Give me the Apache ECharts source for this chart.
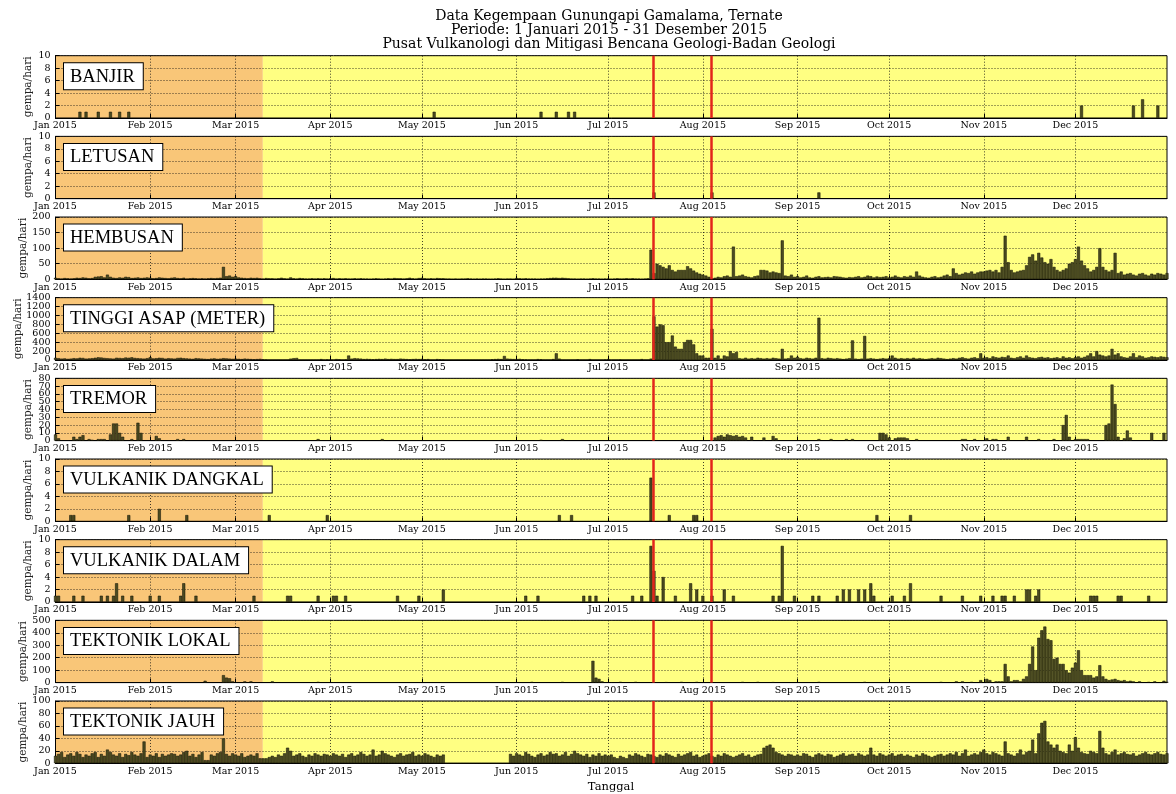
<!DOCTYPE html>
<html><head><meta charset="utf-8">
<script src="https://cdn.jsdelivr.net/npm/echarts@6/dist/echarts.min.js"></script>
<style>html,body{margin:0;padding:0;background:#fff}#c{width:1176px;height:794px}</style>
</head><body><div id="c"></div><script>
// ---- axis / labels ----
const titleLines = ['Data Kegempaan Gunungapi Gamalama, Ternate','Periode: 1 Januari 2015 - 31 Desember 2015','Pusat Vulkanologi dan Mitigasi Bencana Geologi-Badan Geologi'];
const xAxisTitle = 'Tanggal';
const yAxisTitle = 'gempa/hari';
const monthTicks = [0,31,59,90,120,151,181,212,243,273,304,334]; // day of year (0 = 1 Jan 2015)
const monthLabels = ['Jan 2015','Feb 2015','Mar 2015','Apr 2015','May 2015','Jun 2015','Jul 2015','Aug 2015','Sep 2015','Oct 2015','Nov 2015','Dec 2015'];
const panelNames = ['BANJIR','LETUSAN','HEMBUSAN','TINGGI ASAP (METER)','TREMOR','VULKANIK DANGKAL','VULKANIK DALAM','TEKTONIK LOKAL','TEKTONIK JAUH'];
const yMax  = [10,10,200,1400,80,10,10,500,100];
const yStep = [2,2,50,200,10,2,2,100,20];
const eventDays = [195.7, 214.7];   // red markers (day of year)
const orangeEndDay = 67.9;          // end of orange period

// ---- sparse series: day of year + value ----
const banjirDays = [8,10,14,18,21,24,124,159,164,168,170,336,353,356,361];
const banjirVals = [1,1,1,1,1,1,1,1,1,1,1,2,2,3,2];
const letusanDays = [196,215,250];
const letusanVals = [1,1,1];
const tremorDays = [0,1,6,7,8,9,11,12,14,15,16,18,19,20,21,22,25,27,28,33,34,40,42,86,107,159,166,216,217,218,219,220,221,222,223,224,225,226,228,232,235,236,250,254,259,261,270,271,272,273,275,276,277,278,279,282,297,298,301,305,307,308,312,318,322,327,330,331,332,334,335,336,337,338,344,345,346,347,348,350,351,352,359,363];
const tremorVals = [8,3,5,2,5,7,2,1,2,2,2,8,22,22,10,5,2,23,10,6,3,2,2,2,2,1,2,4,6,7,5,8,7,6,7,5,6,4,5,4,6,3,2,2,2,2,10,10,8,4,3,4,4,4,3,2,2,2,2,3,2,2,5,5,2,2,20,33,5,2,2,2,2,2,20,22,72,47,5,3,13,4,10,10];
const vDangkalDays = [5,6,24,34,43,70,89,165,169,195,201,209,210,269,280];
const vDangkalVals = [1,1,1,2,1,1,1,1,1,7,1,1,1,1,1];
const vDalamDays = [0,1,6,9,15,17,19,20,22,25,31,34,41,42,46,65,76,77,86,91,92,95,112,119,127,154,158,173,175,177,189,192,195,196,197,199,203,208,210,212,215,219,222,235,237,238,242,248,250,256,258,260,263,265,267,268,274,278,280,290,297,303,307,310,311,314,318,319,321,322,339,340,341,348,349,358];
const vDalamVals = [1,1,1,1,1,1,1,3,1,1, 1,1,1,3,1,1,1,1,1,1, 1,1,1,1,2,1,1,1,1,1, 1,1,9,5,1,4,1,3,2,1, 1,2,1,1,1,9,1,1,1,1, 2,2,2,2,3,1,1,1,3,1, 1,1,1,1,1,1,2,2,1,2, 1,1,1,1,1,1];
const tLokalDays = [49,55,56,57,58,62,64,71,86,156,166,176,177,178,179,185,190,200,205,210,225,230,235,250,265,290,295,297,300,303,305,306,308,309,310,311,312,313,314,315,316,317,318,319,320,321,322,323,324,325,326,327,328,329,330,331,332,333,334,335,336,337,338,339,340,341,342,343,344,345,346,347,348,349,350,351,352,353,355,358,360,363,364];
const tLokalVals = [15,60,40,35,10,10,10,10,5,5, 5,175,40,30,10,5,5,3,5,5, 5,5,3,5,5,5,10,10,5,20, 30,20,10,10,10,150,50,10,20,20, 10,30,50,150,290,100,360,420,450,350, 340,190,200,150,150,100,80,120,160,260, 100,60,60,60,40,50,140,50,30,20, 25,30,20,15,20,10,15,10, 10,5,10,15,5];

// ---- dense daily series (365 values, one line per month) ----
const hembusan = [
 5,3,2,4,3,2,3,5,4,6,5,3,4,8,9,10,6,15,8,5,4,6,5,8,7,4,5,6,4,5,6,
 5,3,4,6,5,4,3,5,6,4,3,5,2,3,4,3,2,3,2,3,4,3,4,5,40,10,12,8,
 10,6,5,4,3,5,4,5,3,2,4,3,3,2,3,5,3,2,6,3,2,4,3,2,2,3,2,3,2,3,2,
 3,4,2,3,2,3,2,2,3,2,3,2,2,1,2,3,2,1,2,3,2,4,3,3,2,3,5,3,2,4,
 5,3,2,3,2,4,3,3,2,2,1,2,1,2,2,3,2,1,2,1,2,2,1,1,2,3,2,1,2,2,1,
 4,3,2,3,2,2,2,1,2,2,3,4,5,5,4,5,4,3,2,2,1,2,2,1,2,3,2,2,1,2,
 2,1,2,3,2,2,3,2,3,2,2,1,2,3,95,20,50,45,40,35,45,30,25,30,30,30,42,35,28,22,18,
 15,12,8,3,5,8,6,10,12,8,105,10,12,15,10,8,6,10,12,30,30,28,22,25,22,20,125,12,10,15,8,
 10,6,8,12,6,5,8,10,6,7,8,6,10,9,8,6,5,7,6,8,10,6,8,12,10,6,9,7,8,10,
 6,8,12,8,6,10,8,12,8,25,12,8,6,5,8,10,6,8,12,15,10,35,20,15,18,22,20,25,18,22,25,
 25,28,30,25,30,22,40,140,55,30,22,25,28,30,45,72,80,60,85,70,55,50,65,40,30,25,30,35,50,55,
 65,105,60,45,35,25,30,40,100,40,30,25,30,85,20,25,15,18,20,15,12,18,20,15,12,18,15,20,18,15,20
];
const tinggiAsap = [
 50,40,30,35,25,30,40,35,50,45,30,35,40,50,60,55,45,40,35,30,50,45,40,55,50,60,45,40,35,30,40,
 60,35,40,50,45,30,40,35,30,45,50,40,35,30,25,40,35,30,25,20,30,35,25,30,40,35,30,25,
 30,25,20,30,25,20,15,20,25,15,10,0,0,0,0,0,0,0,30,40,45,0,0,0,0,0,0,0,20,0,10,
 0,0,20,15,0,10,100,30,40,35,30,20,25,20,15,20,25,20,30,20,25,20,20,30,25,20,15,20,25,20,
 25,15,20,0,0,20,15,10,0,0,0,0,0,0,0,0,0,0,0,0,0,0,0,15,20,25,20,90,30,25,20,
 20,25,15,10,0,0,0,20,15,0,0,0,20,150,30,0,0,0,0,0,15,0,0,0,20,0,0,0,0,10,
 20,0,0,0,10,0,0,0,0,0,0,20,0,0,30,980,750,800,780,400,400,550,300,250,250,400,450,450,350,150,100,
 100,50,50,700,50,100,30,100,80,200,150,180,40,30,50,30,40,30,50,40,30,40,30,50,40,30,250,30,40,100,50,
 70,40,30,50,40,30,50,950,40,30,50,40,30,40,30,20,30,40,440,30,20,30,540,30,40,30,20,30,40,30,
 40,100,50,30,40,30,40,30,50,30,40,30,20,30,40,30,50,40,30,20,30,40,30,50,60,40,30,50,60,40,150,
 50,60,40,80,60,50,70,60,100,50,40,60,80,50,100,60,50,40,60,70,50,60,40,50,60,40,80,50,60,40,
 60,80,50,70,100,150,80,200,120,100,80,100,250,120,150,80,60,50,80,150,60,100,80,50,60,80,70,60,80,70,60
];
const tektonikJauh = [
 12,15,18,10,14,16,12,18,15,10,14,12,16,18,10,15,12,22,18,14,12,16,10,15,13,18,14,12,16,35,10,
 14,12,16,10,15,12,14,16,15,12,14,18,20,12,15,10,14,18,5,5,14,12,16,18,40,15,12,16,
 14,12,16,10,12,14,12,16,8,8,8,10,12,10,14,12,16,25,20,12,14,16,12,10,14,12,16,14,12,15,14,
 12,16,14,12,15,10,14,16,12,14,18,15,12,14,22,12,14,20,16,14,12,10,14,16,12,14,15,18,12,14,
 12,16,14,12,10,14,12,14,0,0,0,0,0,0,0,0,0,0,0,0,0,0,0,0,0,0,0,0,0,15,12,
 16,14,12,18,15,12,10,14,16,12,14,18,15,16,12,14,18,12,15,20,16,14,12,15,10,14,12,16,12,14,
 12,14,10,8,12,10,8,14,12,16,14,12,10,15,14,12,10,14,12,16,14,12,10,15,12,14,16,18,12,14,10,
 12,14,16,12,10,14,12,16,14,12,10,12,14,16,12,14,10,12,14,15,25,28,30,25,18,16,14,12,15,14,12,
 14,12,16,15,12,10,14,16,14,12,15,14,10,12,14,16,12,14,15,12,16,14,12,14,25,14,12,16,14,12,
 14,16,12,14,15,12,14,12,10,14,12,16,14,12,10,12,14,15,12,14,16,14,18,12,16,22,12,14,16,14,18,
 22,16,14,18,16,14,12,35,16,14,12,16,22,14,18,20,38,16,48,65,68,35,30,25,30,20,18,16,30,20,
 42,25,18,16,15,20,18,16,52,25,16,14,18,22,14,16,18,15,14,16,12,14,16,18,15,14,16,18,15,14,16
];

// ---- build ----
const pairs = (days, vals) => days.map((d, k) => [d, vals[k]]);
const daily = arr => arr.map((v, i) => [i, v]);
const panelData = [
  pairs(banjirDays, banjirVals), pairs(letusanDays, letusanVals), daily(hembusan), daily(tinggiAsap),
  pairs(tremorDays, tremorVals), pairs(vDangkalDays, vDangkalVals), pairs(vDalamDays, vDalamVals),
  pairs(tLokalDays, tLokalVals), daily(tektonikJauh)
];

const SERIF = 'DejaVu Serif';
const BOXFONT = 'Liberation Serif';
const TOP0 = 55.7, STEP = 80.66, H = 62.3, LEFT = 55.5, RIGHT = 9;
const ORANGE = '#f9c678', YELLOW = '#ffff82';
const dotted = {color:'#111', type:[1,2], width:0.8};
const yLabelStyle = {fontFamily:SERIF, fontSize:9.5, color:'#000', margin:5, formatter:v => String(v),
  showMinLabel:true, showMaxLabel:true, hideOverlap:false};

const grids = [], xAxes = [], yAxes = [], series = [], graphics = [];
panelNames.forEach((name, i) => {
  const top = TOP0 + STEP * i;
  const maxLabelLen = String(yMax[i]).length;
  const ticks = [];
  for (let v = 0; v <= yMax[i]; v += yStep[i]) ticks.push(v);
  const evenTicks = ticks.filter((v, k) => k % 2 === 0);
  const oddTicks = ticks.filter((v, k) => k % 2 === 1);
  grids.push({left:LEFT, right:RIGHT, top:top, height:H, show:true, borderColor:'#000', borderWidth:1,
              backgroundColor:'transparent', outerBoundsMode:'none'});
  xAxes.push({gridIndex:i, type:'value', min:0, max:364,
    axisLine:{show:true, onZero:false, lineStyle:{color:'#000', width:1}},
    axisTick:{show:true, inside:true, length:4, customValues:monthTicks, lineStyle:{color:'#000'}},
    axisLabel:{customValues:monthTicks, formatter:v => monthLabels[monthTicks.indexOf(v)],
      fontFamily:SERIF, fontSize:9.5, color:'#000', margin:3, showMinLabel:true, showMaxLabel:true, hideOverlap:false},
    splitLine:{show:true, lineStyle:dotted}});
  // main y axis (line, ticks, grid, even labels)
  yAxes.push({gridIndex:i, type:'value', min:0, max:yMax[i], interval:yStep[i],
    axisLine:{show:true, lineStyle:{color:'#000', width:1}},
    axisTick:{show:true, inside:true, length:4, lineStyle:{color:'#000'}},
    axisLabel:Object.assign({customValues:evenTicks}, yLabelStyle),
    splitLine:{show:true, lineStyle:dotted},
    name:yAxisTitle, nameLocation:'middle', nameMoveOverlap:false,
    nameGap: maxLabelLen <= 2 ? 22 : (maxLabelLen === 3 ? 27 : 32), nameRotate:90,
    nameTextStyle:{fontFamily:SERIF, fontSize:10.5, color:'#222'}});
  // overlay y axis carrying the odd labels (keeps crowded labels from being dropped)
  yAxes.push({gridIndex:i, type:'value', min:0, max:yMax[i], interval:yStep[i], position:'left', offset:0,
    axisLine:{show:false}, axisTick:{show:false}, splitLine:{show:false},
    axisLabel:Object.assign({customValues:oddTicks}, yLabelStyle)});
  series.push({type:'line', xAxisIndex:i, yAxisIndex:2 * i, data:[], silent:true, z:-1,
    markArea:{silent:true, z:-1, data:[
      [{xAxis:0, itemStyle:{color:ORANGE}}, {xAxis:orangeEndDay}],
      [{xAxis:orangeEndDay, itemStyle:{color:YELLOW}}, {xAxis:364}]
    ]}});
  series.push({type:'bar', xAxisIndex:i, yAxisIndex:2 * i, data:panelData[i], barWidth:3,
    itemStyle:{color:'#4b4b20', borderColor:'#0d0d05', borderWidth:0.5},
    markLine:{silent:true, symbol:['none','none'], label:{show:false},
      lineStyle:{color:'#e3241b', width:2.5, type:'solid'},
      data:eventDays.map(d => ({xAxis:d}))}});
  graphics.push({type:'text', x:64, y:top + 7.6, z:100,
    style:{text:name, font:'18.5px "' + BOXFONT + '"', fill:'#000', align:'left', verticalAlign:'top',
      backgroundColor:'#fff', borderColor:'#000', borderWidth:1, padding:[4,8,3,6]}});
});
titleLines.forEach((t, k) => {
  graphics.push({type:'text', x:609, y:16.5 + 13.9 * k,
    style:{text:t, font:'14px "' + SERIF + '"', fill:'#000', align:'center', verticalAlign:'middle'}});
});
graphics.push({type:'text', x:611, y:787,
  style:{text:xAxisTitle, font:'11.5px "' + SERIF + '"', fill:'#000', align:'center', verticalAlign:'middle'}});

const chart = echarts.init(document.getElementById('c'), null, {renderer:'canvas'});
chart.setOption({animation:false, backgroundColor:'#fff', grid:grids, xAxis:xAxes, yAxis:yAxes,
  series:series, graphic:graphics});
</script></body></html>
